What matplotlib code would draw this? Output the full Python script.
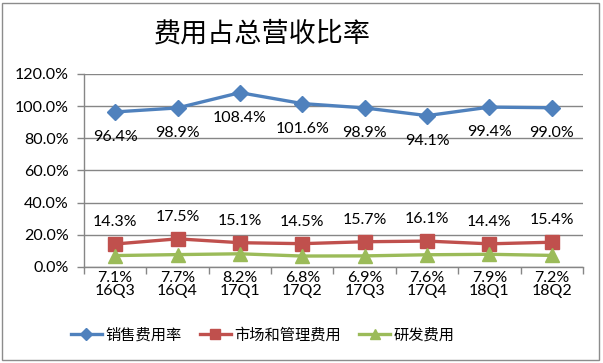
import matplotlib
matplotlib.use("Agg")
import matplotlib.pyplot as plt
from matplotlib.patches import Rectangle
from matplotlib.ticker import FuncFormatter, MultipleLocator

categories = ["16Q3", "16Q4", "17Q1", "17Q2", "17Q3", "17Q4", "18Q1", "18Q2"]
sales = [96.4, 98.9, 108.4, 101.6, 98.9, 94.1, 99.4, 99.0]
market = [14.3, 17.5, 15.1, 14.5, 15.7, 16.1, 14.4, 15.4]
rnd = [7.1, 7.7, 8.2, 6.8, 6.9, 7.6, 7.9, 7.2]
series_names = ["销售费用率", "市场和管理费用", "研发费用"]
title = "费用占总营收比率"

plt.rcParams['font.family'] = ['Lato', 'Noto Sans CJK SC', 'DejaVu Sans']
cjk = ['Noto Sans CJK SC', 'DejaVu Sans']

fig = plt.figure(figsize=(6.03, 3.63), dpi=100)
fig.patches.append(Rectangle((0.004, 0.008), 0.99, 0.985, transform=fig.transFigure,
                             fill=False, edgecolor='#8c8c8c', linewidth=1.0))
ax = fig.add_axes([0.1393, 0.2645, 0.8275, 0.5317])

x = list(range(len(categories)))
c_blue, c_red, c_green = '#4F81BD', '#C0504D', '#9BBB59'
ax.plot(x, sales, color=c_blue, lw=2.4, marker='D', ms=8, label=series_names[0], zorder=3)
ax.plot(x, market, color=c_red, lw=2.4, marker='s', ms=10, label=series_names[1], zorder=3)
ax.plot(x, rnd, color=c_green, lw=2.4, marker='^', ms=10, label=series_names[2], zorder=3)

for xi, v in zip(x, sales):
    ax.annotate(f"{v:.1f}%", (xi, v), xytext=(0, -25), textcoords='offset pixels',
                ha='center', va='center', fontsize=11.5)
for xi, v in zip(x, market):
    ax.annotate(f"{v:.1f}%", (xi, v), xytext=(0, 22), textcoords='offset pixels',
                ha='center', va='center', fontsize=11.5)

ax.set_xlim(-0.5, len(categories) - 0.5)
ax.set_ylim(0, 120)
ax.yaxis.set_major_locator(MultipleLocator(20))
ax.yaxis.set_major_formatter(FuncFormatter(lambda v, p: f"{v:.1f}%"))
ax.grid(axis='y', color='#868686', lw=1.0)
ax.set_axisbelow(True)

ax.set_xticks([i - 0.5 for i in range(len(categories) + 1)])
ax.set_xticklabels([])
ax.set_xticks(x, minor=True)
ax.set_xticklabels([f"{v:.1f}%\n{c}" for v, c in zip(rnd, categories)], minor=True,
                   fontsize=11.5, linespacing=0.85)
ax.tick_params(axis='x', which='major', length=5, color='#868686', width=1)
ax.tick_params(axis='x', which='minor', length=0, pad=3)
ax.tick_params(axis='y', length=5, color='#868686', width=1, labelsize=11.5, pad=6)

for s in ['top', 'right']:
    ax.spines[s].set_visible(False)
for s in ['left', 'bottom']:
    ax.spines[s].set_color('#868686')
    ax.spines[s].set_linewidth(1.0)

fig.text(0.435, 0.905, title, ha='center', va='center', fontsize=19.5, family=cjk)

leg = fig.legend(loc='center', bbox_to_anchor=(0.436, 0.077), ncol=3, frameon=False,
                 prop={'family': cjk, 'size': 11}, handlelength=2.0, columnspacing=1.2,
                 handletextpad=0.25, markerscale=0.75)

fig.savefig("out.png", dpi=100)
